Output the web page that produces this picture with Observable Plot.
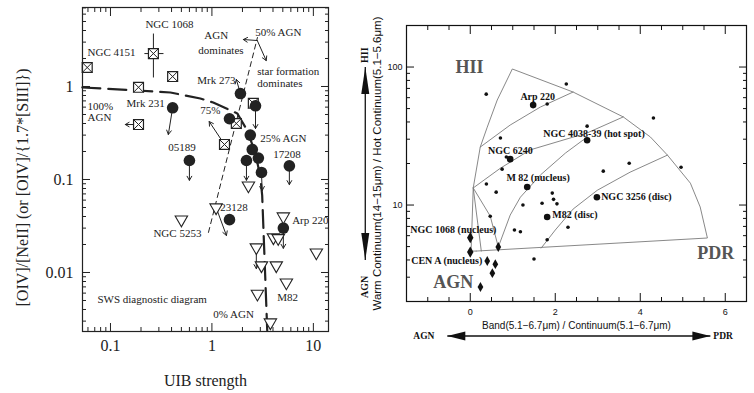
<!DOCTYPE html>
<html><head><meta charset="utf-8">
<script src="https://cdn.jsdelivr.net/npm/d3@7"></script>
<script src="https://cdn.jsdelivr.net/npm/@observablehq/plot@0.6"></script>
<style>
body{margin:0;background:#fff;}
#wrap{display:flex;width:754px;height:393px;overflow:hidden;}
#wrap svg{display:block;}
</style></head><body><div id="wrap"></div>
<script>
// ================= LEFT PANEL DATA (SWS diagnostic diagram) =================
const xTicksL = [0.1, 1, 10];
const xMinorL = [0.06,0.07,0.08,0.09,0.2,0.3,0.4,0.5,0.6,0.7,0.8,0.9,2,3,4,5,6,7,8,9];
const yTicksL = [0.01, 0.1, 1];
const yMinorL = [0.003,0.004,0.005,0.006,0.007,0.008,0.009,0.02,0.03,0.04,0.05,0.06,0.07,0.08,0.09,0.2,0.3,0.4,0.5,0.6,0.7,0.8,0.9,2,3,4,5,6,7];

// AGN templates (boxed crosses)
const boxX = [0.059, 0.265, 0.41, 0.189, 0.189, 2.56, 1.74, 1.33];
const boxY = [1.6, 2.26, 1.28, 0.98, 0.39, 0.66, 0.40, 0.238];
// ULIRGs (filled circles)
const circX = [0.41, 1.91, 2.69, 1.49, 2.39, 2.5, 2.19, 2.87, 3.08, 5.8, 0.60, 1.49, 5.06];
const circY = [0.59, 0.84, 0.62, 0.45, 0.30, 0.21, 0.16, 0.17, 0.119, 0.14, 0.16, 0.037, 0.030];
// starbursts / limits (open down-triangles)
const triX = [0.50, 1.10, 2.29, 5.06, 4.04, 4.5, 2.74, 3.08, 4.31, 5.42, 2.81, 3.77, 10.7];
const triY = [0.037, 0.050, 0.086, 0.040, 0.0238, 0.0234, 0.0186, 0.0119, 0.0119, 0.0078, 0.0059, 0.0029, 0.0164];
// NGC 1068 error bars
const errX = [0.216, 0.333];
const errY = [1.25, 3.71];
const errAtX = 0.265, errAtY = 2.26;
// limit / direction arrows
const arrX1 = [0.41, 0.189, 2.69, 1.33, 1.91, 2.19, 3.08, 5.8, 0.60, 1.10, 5.06, 2.74, 2.80, 2.80];
const arrY1 = [0.59, 0.39, 0.62, 0.238, 0.84, 0.16, 0.119, 0.14, 0.16, 0.050, 0.030, 0.0186, 3.12, 3.12];
const arrX2 = [0.372, 0.14, 2.69, 0.94, 1.74, 2.19, 3.13, 5.8, 0.60, 1.39, 5.06, 2.74, 2.04, 3.43];
const arrY2 = [0.305, 0.39, 0.353, 0.42, 1.19, 0.098, 0.076, 0.088, 0.098, 0.025, 0.0182, 0.011, 3.2, 1.9];
// mixing line (100% -> 0% AGN), thick dashed
const mixX = [0.0528, 0.1845, 0.39, 0.769, 1.03, 1.78, 2.23, 2.67, 2.99, 3.13, 3.28, 3.51];
const mixY = [0.976, 0.906, 0.862, 0.743, 0.673, 0.513, 0.336, 0.195, 0.110, 0.0673, 0.0172, 0.00238];
// 50% AGN line, thin dashed
const halfX = [0.925, 2.81];
const halfY = [0.027, 3.36];
// labels
const labL  = ["NGC 1068","NGC 4151","AGN","dominates","50% AGN","star formation","dominates","Mrk 273","100%","AGN","Mrk 231","75%","05189","25% AGN","17208","23128","NGC 5253","Arp 220","M82","SWS diagnostic diagram","0% AGN"];
const labLX = [0.221,0.0594,0.842,0.735,2.67,2.80,2.80,0.718,0.0594,0.0594,0.1437,0.769,0.372,2.995,4.02,1.21,0.265,6.18,4.40,0.0744,1.03];
const labLY = [4.64,2.32,3.53,2.44,3.81,1.45,1.077,1.16,0.609,0.464,0.656,0.552,0.221,0.276,0.186,0.050,0.0263,0.0362,0.00538,0.00513,0.00353];
const xTitleL = "UIB strength";
const yTitleL = "[OIV]/[NeII] (or [OIV]/{1.7*[SIII]})";

// ================= RIGHT PANEL DATA (ISOCAM diagnostic diagram) =================
const xTicksR = [0, 2, 4, 6];
const xMinorR = [-1,-0.5,0.5,1,1.5,2.5,3,3.5,4.5,5,5.5];
const yTicksR = [10, 100];
const yMinorR = [3,4,5,6,7,8,9,20,30,40,50,60,70,80,90];

const smallX = [0.376,2.26,1.81,4.31,2.75,0.71,0.85,0.75,3.74,4.96,3.13,0.38,0.61,1.93,1.96,2.04,1.69,1.24,0.47,2.3,1.04,1.18,1.81,1.5];
const smallY = [63.6,75.3,54,42.7,37.3,30.6,22.3,18.2,20.1,18.8,17.6,14.2,12.4,12.2,11.0,10.2,10.3,10.0,8.3,6.9,6.6,6.4,5.6,4.06];
const bigX = [1.48, 2.75, 0.94, 1.34, 2.98, 1.81];
const bigY = [53, 29.5, 21.5, 13.5, 11.4, 8.2];
const diaX = [0, 0, 0.66, 0.4, 0.59, 0.52, 0.24];
const diaY = [5.8, 4.56, 4.96, 3.93, 3.73, 3.21, 2.55];

// template grid lines
const outerX = [0.14, 0.02, 0.07, 0.235, 0.40, 0.635, 0.99, 2.42, 3.6, 4.24, 4.64, 5.18, 5.41, 5.58, 0.14];
const outerY = [4.64, 4.64, 13.3, 26.3, 36.7, 57.7, 96.8, 65.9, 43.5, 31.1, 23.0, 14.4, 9.68, 5.77, 4.64];
const g1X = [0.235, 0.94, 1.65, 2.42];           const g1Y = [26.3, 38, 51.3, 65.9];
const g2X = [0.07, 0.71, 1.41, 2.75, 3.6];        const g2Y = [13.3, 18.5, 25.1, 33.3, 43.5];
const g3X = [0.66, 0.94, 1.18, 1.65, 2.24, 2.75]; const g3Y = [4.96, 8.46, 11.4, 16.5, 23.8, 31.1];
const g4X = [0.07, 0.47, 0.66];                   const g4Y = [13.3, 8.32, 4.96];
const g5X = [0.07, 0.26];                         const g5Y = [13.3, 4.64];
const g6X = [1.67, 2.0, 2.42, 2.99, 3.76, 4.64];  const g6Y = [4.88, 6.59, 9.35, 12.8, 17.3, 23.0];

const labR  = ["Arp 220","NGC 4038-39 (hot spot)","NGC 6240","M 82 (nucleus)","NGC 3256 (disc)","M82 (disc)","NGC 1068 (nucleus)","CEN A (nucleus)"];
const labRX = [1.18, 1.72, 0.42, 0.85, 3.08, 1.93, -1.41, -1.39];
const labRY = [60.7, 32.7, 24.6, 15.7, 11.4, 8.47, 6.59, 3.93];
const regR  = ["HII", "PDR", "AGN"];
const regRX = [-0.35, 5.34, -0.87];
const regRY = [100, 4.49, 2.77];
const xTitleR = "Band(5.1\u22126.7\u03bcm) / Continuum(5.1\u22126.7\u03bcm)";
const yTitleR = "Warm Continuum(14\u221215\u03bcm) / Hot Continuum(5.1\u22125.6\u03bcm)";
// direction arrows outside the frame
const hArrowX = [-0.54, 5.65];  const hArrowY = 1.125;
const hArrowLab = ["AGN", "PDR"]; const hArrowLabX = [-1.34, 5.72];
const vArrowY = [100, 3.99];    const vArrowX = -2.47;
const vArrowLab = ["HII", "AGN"]; const vArrowLabY = [122, 2.55];

// ================= BUILD =================
const serif = "'Liberation Serif','Times New Roman',serif";
const sans = "'Liberation Sans',Arial,sans-serif";
const idx = a => a.map((_, i) => i);

function inTicks(xs, ys, size) {
  return [
    Plot.axisX(xs, {anchor: "bottom", tickSize: size, dy: -size, fill: "none", label: null}),
    Plot.axisX(xs, {anchor: "top", tickSize: size, dy: size, fill: "none", label: null}),
    Plot.axisY(ys, {anchor: "left", tickSize: size, dx: size, fill: "none", label: null}),
    Plot.axisY(ys, {anchor: "right", tickSize: size, dx: -size, fill: "none", label: null})
  ];
}

const boxes = idx(boxX).map(i => ({x: boxX[i], y: boxY[i]}));
const circs = idx(circX).map(i => ({x: circX[i], y: circY[i]}));
const tris = idx(triX).map(i => ({x: triX[i], y: triY[i]}));
const arrs = idx(arrX1).map(i => ({x1: arrX1[i], y1: arrY1[i], x2: arrX2[i], y2: arrY2[i]}));
const mix = idx(mixX).map(i => ({x: mixX[i], y: mixY[i]}));
const half = idx(halfX).map(i => ({x: halfX[i], y: halfY[i]}));
const labsL = idx(labL).map(i => ({t: labL[i], x: labLX[i], y: labLY[i]}));

const left = Plot.plot({
  width: 340, height: 393,
  marginLeft: 82, marginRight: 12, marginTop: 7, marginBottom: 62,
  x: {type: "log", domain: [0.053, 14.1]},
  y: {type: "log", domain: [0.00232, 7.07]},
  style: {fontFamily: serif, background: "white", color: "#222"},
  marks: [
    ...inTicks(xTicksL, yTicksL, 8),
    ...inTicks(xMinorL, yMinorL, 4),
    Plot.axisX(xTicksL, {anchor: "bottom", tickSize: 0, tickPadding: 8, fontSize: 16, label: null, tickFormat: d => String(d)}),
    Plot.axisY(yTicksL, {anchor: "left", tickSize: 0, tickPadding: 9, fontSize: 16, label: null, tickFormat: d => String(d)}),
    Plot.line(mix, {x: "x", y: "y", strokeWidth: 2.2, strokeDasharray: "18,8"}),
    Plot.line(half, {x: "x", y: "y", strokeWidth: 1, strokeDasharray: "5,4"}),
    Plot.link([{x1: errX[0], x2: errX[1], y1: errAtY, y2: errAtY}, {x1: errAtX, x2: errAtX, y1: errY[0], y2: errY[1]}],
      {x1: "x1", x2: "x2", y1: "y1", y2: "y2", strokeWidth: 1}),
    Plot.arrow(arrs, {x1: "x1", y1: "y1", x2: "x2", y2: "y2", headLength: 7, strokeWidth: 1}),
    Plot.dot(boxes, {x: "x", y: "y", symbol: "square", r: 5.6, stroke: "#222", fill: "white", strokeWidth: 1.2}),
    Plot.dot(boxes, {x: "x", y: "y", symbol: "times", r: 4.6, stroke: "#222", strokeWidth: 1}),
    Plot.dot(circs, {x: "x", y: "y", r: 5.8, fill: "#222"}),
    Plot.dot(tris, {x: "x", y: "y", symbol: "triangle", rotate: 180, r: 4.6, stroke: "#222", fill: "white", strokeWidth: 1.1}),
    Plot.text(labsL, {x: "x", y: "y", text: "t", textAnchor: "start", fontSize: 11, fill: "#222"}),
    Plot.text([xTitleL], {frameAnchor: "bottom", textAnchor: "middle", lineAnchor: "middle", dy: 49, fontSize: 16}),
    Plot.text([yTitleL], {frameAnchor: "left", textAnchor: "middle", lineAnchor: "middle", rotate: -90, dx: -60, dy: 18, fontSize: 16}),
    Plot.frame({stroke: "#222", strokeWidth: 1.2})
  ]
});

const smalls = idx(smallX).map(i => ({x: smallX[i], y: smallY[i]}));
const bigs = idx(bigX).map(i => ({x: bigX[i], y: bigY[i]}));
const dias = idx(diaX).map(i => ({x: diaX[i], y: diaY[i], big: i < 2}));
const grid = [[outerX, outerY], [g1X, g1Y], [g2X, g2Y], [g3X, g3Y], [g4X, g4Y], [g5X, g5Y], [g6X, g6Y]]
  .flatMap(([xs, ys], k) => xs.map((x, i) => ({k, x, y: ys[i]})));
const labsR = idx(labR).map(i => ({t: labR[i], x: labRX[i], y: labRY[i]}));
const regs = idx(regR).map(i => ({t: regR[i], x: regRX[i], y: regRY[i]}));

const right = Plot.plot({
  width: 414, height: 393,
  marginLeft: 66, marginRight: 8, marginTop: 25, marginBottom: 92,
  x: {domain: [-1.5, 6.5]},
  y: {type: "log", domain: [2, 200]},
  style: {fontFamily: sans, background: "white", color: "#111"},
  marks: [
    ...inTicks(xTicksR, yTicksR, 8),
    ...inTicks(xMinorR, yMinorR, 4),
    Plot.axisX(xTicksR, {anchor: "bottom", tickSize: 0, tickPadding: 7, fontSize: 9, label: null}),
    Plot.axisY(yTicksR, {anchor: "left", tickSize: 0, tickPadding: 4, fontSize: 9, label: null}),
    Plot.line(grid, {x: "x", y: "y", z: "k", stroke: "#7a7a7a", strokeWidth: 0.9}),
    Plot.dot(smalls, {x: "x", y: "y", r: 1.8, fill: "#111"}),
    Plot.dot(bigs, {x: "x", y: "y", r: 3.3, fill: "#111"}),
    Plot.dot(dias, {x: "x", y: "y", symbol: "diamond", r: d => d.big ? 4.6 : 3.6, fill: "#111"}),
    Plot.text(labsR, {x: "x", y: "y", text: "t", textAnchor: "start", fontSize: 10, fontWeight: "bold", fontFamily: serif, fill: "#111"}),
    Plot.text(regs, {x: "x", y: "y", text: "t", textAnchor: "start", fontSize: 18, fontWeight: "bold", fontFamily: serif, fill: "#555"}),
    Plot.text([xTitleR], {frameAnchor: "bottom", textAnchor: "middle", lineAnchor: "middle", dy: 24, fontSize: 10}),
    Plot.text([yTitleR], {frameAnchor: "left", textAnchor: "middle", lineAnchor: "middle", rotate: -90, dx: -29, fontSize: 11.5}),
    // horizontal AGN <-> PDR arrow
    Plot.link([{x1: hArrowX[0], x2: hArrowX[1], y: hArrowY}], {x1: "x1", x2: "x2", y1: "y", y2: "y", strokeWidth: 1.3}),
    Plot.vector([{x: hArrowX[0], y: hArrowY, r: 270}, {x: hArrowX[1], y: hArrowY, r: 90}],
      {x: "x", y: "y", rotate: "r", length: 18, r: 4.5, shape: "spike", anchor: "end", fill: "#111", stroke: "none"}),
    Plot.text(hArrowLab.map((t, i) => ({t, x: hArrowLabX[i]})), {x: "x", y: () => hArrowY, text: "t", textAnchor: "start", fontSize: 9.5, fontWeight: "bold", fontFamily: serif}),
    // vertical HII <-> AGN arrow
    Plot.link([{x: vArrowX, y1: vArrowY[0], y2: vArrowY[1]}], {x1: "x", x2: "x", y1: "y1", y2: "y2", strokeWidth: 1.3}),
    Plot.vector([{x: vArrowX, y: vArrowY[0], r: 0}, {x: vArrowX, y: vArrowY[1], r: 180}],
      {x: "x", y: "y", rotate: "r", length: 27, r: 4, shape: "spike", anchor: "end", fill: "#111", stroke: "none"}),
    Plot.text(vArrowLab.map((t, i) => ({t, y: vArrowLabY[i]})), {x: () => vArrowX, y: "y", text: "t", rotate: -90, fontSize: 10, fontWeight: "bold", fontFamily: serif}),
    Plot.frame({stroke: "#111", strokeWidth: 1.2})
  ]
});

document.getElementById("wrap").append(left, right);
</script>
</body></html>
